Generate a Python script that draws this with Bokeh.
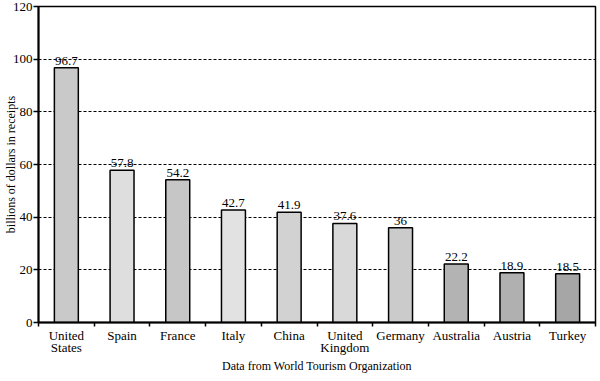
from bokeh.plotting import figure
from bokeh.models import Range1d, FixedTicker, ColumnDataSource, LabelSet
from bokeh.embed import file_html
from bokeh.resources import INLINE

countries = ["United\nStates", "Spain", "France", "Italy", "China", "United\nKingdom",
             "Germany", "Australia", "Austria", "Turkey"]
receipts = [96.7, 57.8, 54.2, 42.7, 41.9, 37.6, 36, 22.2, 18.9, 18.5]
value_labels = ["96.7", "57.8", "54.2", "42.7", "41.9", "37.6", "36", "22.2", "18.9", "18.5"]
shades = ["#c9c9c9", "#dedede", "#c6c6c6", "#e2e2e2", "#d2d2d2", "#d9d9d9",
          "#cbcbcb", "#b3b3b3", "#b0b0b0", "#a6a6a6"]
y_ticks = [0, 20, 40, 60, 80, 100, 120]

FONT = "Liberation Serif"

xs = [i + 0.5 for i in range(len(countries))]
src = ColumnDataSource(dict(x=xs, top=receipts, lab=value_labels, color=shades))

p = figure(width=600, height=381, output_backend="svg", toolbar_location=None,
           x_range=Range1d(0, len(countries)), y_range=Range1d(0, 120),
           min_border_left=0, min_border_right=5, min_border_top=6, min_border_bottom=59)

p.vbar(x="x", top="top", width=0.43, source=src, fill_color="color",
       line_color="black", line_width=1.5)

labels = LabelSet(x="x", y="top", text="lab", source=src, text_align="center",
                  text_baseline="bottom", y_offset=3, text_font=FONT,
                  text_font_size="13px", text_color="black")
p.add_layout(labels)

# x axis: labels at centres, ticks at category boundaries
xt = FixedTicker(ticks=xs, minor_ticks=list(range(len(countries) + 1)))
p.xaxis.ticker = xt
p.xaxis.major_label_overrides = {x: c for x, c in zip(xs, countries)}
p.xaxis.major_tick_out = 0
p.xaxis.major_tick_in = 0
p.xaxis.minor_tick_out = 4
p.xaxis.minor_tick_in = 0
p.xaxis.minor_tick_line_color = "black"
p.xaxis.minor_tick_line_width = 1.5
p.xaxis.axis_line_color = "black"
p.xaxis.axis_line_width = 2
p.xaxis.major_label_text_font = FONT
p.xaxis.major_label_text_font_size = "13px"
p.xaxis.major_label_text_color = "black"
p.xaxis.major_label_text_line_height = 0.85
p.xaxis.major_label_standoff = 1
p.xaxis.axis_label = "Data from World Tourism Organization"
p.xaxis.axis_label_text_font = FONT
p.xaxis.axis_label_text_font_size = "12px"
p.xaxis.axis_label_text_font_style = "normal"
p.xaxis.axis_label_text_color = "black"
p.xaxis.axis_label_standoff = 1

p.yaxis.ticker = FixedTicker(ticks=y_ticks)
p.yaxis.minor_tick_line_color = None
p.yaxis.major_tick_out = 5
p.yaxis.major_tick_in = 0
p.yaxis.major_tick_line_color = "black"
p.yaxis.major_tick_line_width = 1.5
p.yaxis.axis_line_color = "black"
p.yaxis.axis_line_width = 2
p.yaxis.major_label_text_font = FONT
p.yaxis.major_label_text_font_size = "13px"
p.yaxis.major_label_text_color = "black"
p.yaxis.major_label_standoff = 1
p.yaxis.axis_label = "billions of dollars in receipts"
p.yaxis.axis_label_text_font = FONT
p.yaxis.axis_label_text_font_size = "12px"
p.yaxis.axis_label_text_font_style = "normal"
p.yaxis.axis_label_text_color = "black"
p.yaxis.axis_label_standoff = -8

p.xgrid.grid_line_color = None
p.ygrid.ticker = FixedTicker(ticks=y_ticks)
p.ygrid.grid_line_color = "black"
p.ygrid.grid_line_dash = "3 2"
p.ygrid.grid_line_width = 1

p.outline_line_color = "black"
p.outline_line_width = 1.5
p.background_fill_color = "white"
p.border_fill_color = "white"

open("out.html", "w").write(file_html(p, INLINE))
